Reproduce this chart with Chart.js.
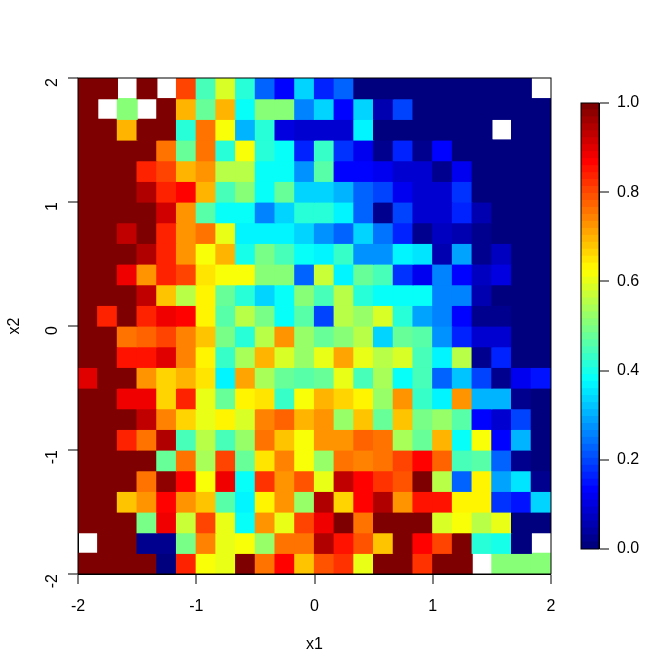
<!DOCTYPE html>
<html>
<head>
<meta charset="utf-8">
<style>
  html, body { margin: 0; background: #fff; }
  canvas { position: absolute; top: 0; }
</style>
<script src="https://cdn.jsdelivr.net/npm/chart.js@4"></script>
</head>
<body>
<canvas id="heatmap" width="672" height="672" style="left:0"></canvas>
<canvas id="colorbar" width="112" height="672" style="left:560px"></canvas>
<script>
// bin edges on both axes (24 x 24 cells between -2 and 2)
var binEdges = [-12/6, -11/6, -10/6, -9/6, -8/6, -7/6, -6/6, -5/6, -4/6, -3/6, -2/6, -1/6, 0,
  1/6, 2/6, 3/6, 4/6, 5/6, 6/6, 7/6, 8/6, 9/6, 10/6, 11/6, 12/6];
var axisTicks = [-2, -1, 0, 1, 2];
var barTicks = [0, 0.2, 0.4, 0.6, 0.8, 1];

// jet ramp, same stops as the usual R jet.colors
var jetStops = ['#00007F', '#0000FF', '#007FFF', '#00FFFF', '#7FFF7F', '#FFFF00', '#FF7F00', '#FF0000', '#7F0000'];
var nLevels = 64;

// cell values, first row is the top of the plot (x2 = 2), null = empty cell
var row00 = [1, 1, null, 1, null, .81, .44, .59, .41, .22, .125, .33, .17, .22, 0, 0, 0, 0, 0, 0, 0, 0, 0, null];
var row01 = [1, null, .5, null, 1, .69, .47, .69, .375, .5, .5, .25, .33, .125, .34, .06, .2, 0, 0, 0, 0, 0, 0, 0];
var row02 = [1, 1, .69, 1, 1, .41, .75, .62, .3, .42, .1, .09, .09, .08, .37, 0, 0, 0, 0, 0, 0, null, 0, 0];
var row03 = [1, 1, 1, 1, .75, .48, .75, .42, .61, .42, .39, .16, .43, .18, .12, .03, .16, .02, .125, 0, 0, 0, 0, 0];
var row04 = [1, 1, 1, .84, .81, .7, .73, .55, .55, .38, .38, .28, .46, .14, .14, .12, .09, .08, .03, .12, 0, 0, 0, 0];
var row05 = [1, 1, 1, .94, .84, .87, .69, .44, .5, .38, .47, .33, .34, .3, .22, .2, .11, .08, .09, .18, 0, 0, 0, 0];
var row06 = [1, 1, 1, 1, .92, .72, .46, .38, .38, .26, .33, .42, .41, .37, .23, .02, .19, .08, .08, .17, .06, 0, 0, 0];
var row07 = [1, 1, .93, 1, .83, .73, .75, .6, .37, .37, .37, .33, .28, .22, .33, .24, .17, .02, .07, .05, .03, 0, 0, 0];
var row08 = [1, 1, 1, .95, .84, .73, .62, .69, .4, .49, .44, .38, .36, .43, .28, .28, .36, .35, .06, .29, .03, .07, 0, 0];
var row09 = [1, 1, .88, .73, .83, .81, .65, .62, .62, .5, .5, .22, .57, .37, .48, .44, .18, .12, .25, .13, .07, .1, 0, 0];
var row10 = [1, 1, 1, .93, .68, .56, .64, .47, .42, .33, .39, .5, .45, .55, .41, .38, .38, .39, .25, .25, .06, 0, 0, 0];
var row11 = [1, .83, 1, .84, .89, .86, .64, .46, .55, .49, .38, .46, .2, .55, .52, .58, .42, .29, .26, .13, .02, .02, 0, 0];
var row12 = [1, 1, .76, .77, .81, .74, .68, .49, .42, .55, .72, .53, .47, .5, .56, .33, .48, .46, .27, .17, .08, .08, 0, 0];
var row13 = [1, 1, .85, .85, .9, .74, .63, .43, .54, .69, .58, .53, .6, .71, .6, .55, .58, .45, .36, .55, .03, .17, 0, 0];
var row14 = [.9, 1, 1, .73, .67, .69, .65, .37, .71, .54, .47, .46, .48, .6, .44, .54, .38, .45, .22, .32, .2, .02, .11, .15];
var row15 = [1, 1, .88, .88, .66, .83, .6, .47, .64, .65, .43, .61, .7, .67, .63, .53, .73, .43, .37, .72, .3, .3, .02, 0];
var row16 = [1, 1, 1, .93, .74, .66, .6, .63, .58, .74, .78, .69, .72, .52, .68, .47, .68, .49, .53, .46, .14, .08, .2, 0];
var row17 = [1, 1, .84, .76, .94, .44, .55, .45, .53, .76, .68, .62, .73, .72, .78, .76, .54, .47, .69, .39, .62, .14, .31, 0];
var row18 = [1, 1, 1, 1, .48, .76, .54, .81, .47, .65, .74, .62, .53, .76, .74, .76, .81, .87, .77, .44, .46, .22, .03, 0];
var row19 = [1, 1, 1, .76, .98, .87, .62, .88, .38, .82, .73, .79, .6, .93, .86, .82, .79, 1, .55, .22, .63, .29, .35, .02];
var row20 = [1, 1, .68, .72, .86, .72, .68, .46, .37, .63, .73, .53, .95, .66, .87, .94, .72, .85, .85, .63, .63, .18, .15, .34];
var row21 = [1, 1, 1, .49, .875, .57, .81, .6, .39, .72, .6, .81, .88, 1, .76, 1, 1, 1, .59, .62, .56, .6, 0, 0];
var row22 = [null, 1, 1, .02, .02, .49, .74, .6, .61, .53, .76, .76, .94, .85, .79, .68, 1, .86, .8, 1, .42, .4, 0, null];
var row23 = [1, 1, 1, 1, .01, .84, .62, .6, 1, .75, .87, .68, .79, .82, .6, 1, 1, .82, 1, 1, null, .5, .5, .5];
var rows = [row00, row01, row02, row03, row04, row05, row06, row07, row08, row09, row10, row11,
  row12, row13, row14, row15, row16, row17, row18, row19, row20, row21, row22, row23];

var fontFamily = '"Liberation Sans", Arial, sans-serif';
Chart.defaults.font.family = fontFamily;
Chart.defaults.font.size = 16;
Chart.defaults.color = '#000';

function hexToRgb(hex) {
  return [1, 3, 5].map(function (i) { return parseInt(hex.substr(i, 2), 16); });
}

// colour of one of the 64 levels
function levelColor(k) {
  var t = k / (nLevels - 1) * (jetStops.length - 1);
  var i = Math.min(Math.floor(t), jetStops.length - 2);
  var a = hexToRgb(jetStops[i]), b = hexToRgb(jetStops[i + 1]);
  var f = t - i;
  return 'rgb(' + a.map(function (v, j) { return Math.round(v + (b[j] - v) * f); }).join(',') + ')';
}

function valueColor(v) {
  return levelColor(Math.min(Math.floor(v * nLevels), nLevels - 1));
}

// R draws a box round the plot region
var boxPlugin = {
  id: 'box',
  afterDraw: function (chart) {
    var a = chart.chartArea, ctx = chart.ctx;
    ctx.save();
    ctx.strokeStyle = '#000';
    ctx.lineWidth = 1;
    ctx.strokeRect(a.left, a.top, a.right - a.left, a.bottom - a.top);
    ctx.restore();
  }
};

// one dataset per row, empty cells are left out
var rowDatasets = rows.map(function (row, r) {
  var points = [], colors = [];
  row.forEach(function (v, c) {
    if (v === null) return;
    points.push({
      x: (binEdges[c] + binEdges[c + 1]) / 2,
      y: [binEdges[23 - r], binEdges[24 - r]]
    });
    colors.push(valueColor(v));
  });
  return { data: points, backgroundColor: colors, borderWidth: 0, inflateAmount: 0.6 };
});

// lineWidth 0 keeps bars that start at value 0 from being nudged by half a grid line
var tickGrid = { display: true, offset: false, drawOnChartArea: false, drawTicks: true, lineWidth: 0, tickWidth: 1, tickLength: 10, tickColor: '#000' };

function axisOptions(size, titleText, titlePad, extra) {
  return Object.assign({
    type: 'linear',
    min: -2,
    max: 2,
    offset: false,
    afterFit: function (scale) {
      if (scale.isHorizontal()) scale.height = size; else scale.width = size;
    },
    afterBuildTicks: function (scale) {
      scale.ticks = axisTicks.map(function (v) { return { value: v }; });
    },
    grid: tickGrid,
    border: { display: true, color: '#000' },
    title: { display: true, text: titleText, padding: titlePad, font: { size: 16 } }
  }, extra);
}

new Chart(document.getElementById('heatmap'), {
  type: 'bar',
  data: { datasets: rowDatasets },
  plugins: [boxPlugin],
  options: {
    responsive: false,
    animation: false,
    grouped: false,
    barPercentage: 1,
    categoryPercentage: 1,
    layout: { padding: { top: 78, right: 121, left: 0, bottom: 0 } },
    plugins: { legend: { display: false }, tooltip: { enabled: false } },
    scales: {
      x: axisOptions(98, 'x1', { top: 0, bottom: 18 }, { ticks: { padding: 13, maxRotation: 0 } }),
      y: axisOptions(78, 'x2', { top: 5, bottom: 0 }, { ticks: { padding: 15, minRotation: 90, maxRotation: 90 } })
    }
  }
});

// colour key
var keyDatasets = [];
for (var k = 0; k < nLevels; k++) {
  keyDatasets.push({
    data: [[k / nLevels, (k + 1) / nLevels]],
    backgroundColor: levelColor(k),
    borderWidth: 0,
    inflateAmount: 0.6
  });
}

new Chart(document.getElementById('colorbar'), {
  type: 'bar',
  data: { labels: [''], datasets: keyDatasets },
  plugins: [boxPlugin],
  options: {
    responsive: false,
    animation: false,
    grouped: false,
    barPercentage: 1,
    categoryPercentage: 1,
    layout: { padding: { top: 103, bottom: 123, left: 21, right: 0 } },
    plugins: { legend: { display: false }, tooltip: { enabled: false } },
    scales: {
      x: { display: false },
      y: {
        position: 'right',
        min: 0,
        max: 1,
        afterFit: function (scale) { scale.width = 73; },
        afterBuildTicks: function (scale) {
          scale.ticks = barTicks.map(function (v) { return { value: v }; });
        },
        ticks: { padding: 8, callback: function (v) { return v.toFixed(1); } },
        grid: { display: true, drawOnChartArea: false, drawTicks: true, lineWidth: 0, tickWidth: 1, tickLength: 10, tickColor: '#000' },
        border: { display: true, color: '#000' }
      }
    }
  }
});
</script>
</body>
</html>
